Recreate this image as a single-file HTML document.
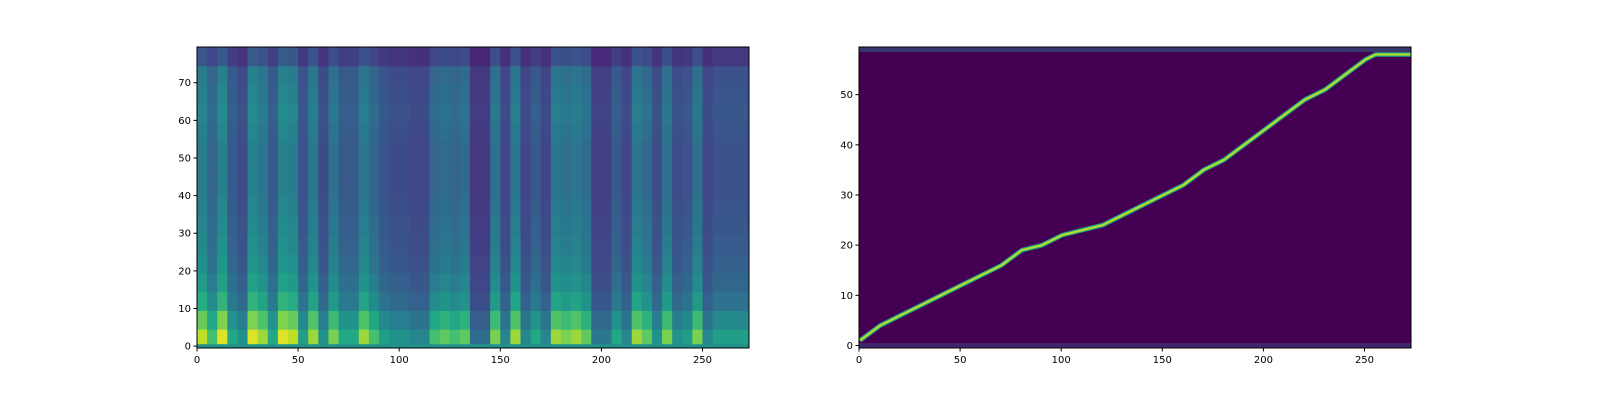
<!DOCTYPE html>
<html><head><meta charset="utf-8"><style>
body{margin:0;background:#fff;}
svg text{font-family:"DejaVu Sans","Liberation Sans",sans-serif;font-size:10px;fill:#000;}
</style></head><body>
<svg id="fig" width="1600" height="400" xmlns="http://www.w3.org/2000/svg">
<defs>
<clipPath id="cl"><rect x="197" y="47" width="552" height="301"/></clipPath>
<clipPath id="cr"><rect x="859" y="47" width="552" height="301"/></clipPath>
</defs>
<g id="left" clip-path="url(#cl)"></g>
<g id="right" clip-path="url(#cr)"></g>
<g id="axes"></g>
</svg>
<script>
// Mel spectrogram: column energy per 5 frames, row base per 5 mel bins
const melColEnergy=[0.9,0.7,0.95,0.6,0.5,0.95,0.85,0.6,0.95,0.9,
0.55,0.85,0.5,0.8,0.6,0.6,0.85,0.7,0.55,0.5,
0.5,0.45,0.45,0.7,0.75,0.7,0.75,0.35,0.35,0.8,
0.45,0.85,0.45,0.6,0.45,0.85,0.8,0.85,0.75,0.4,
0.4,0.6,0.45,0.85,0.75,0.5,0.8,0.5,0.55,0.8,
0.45,0.55,0.55,0.55,0.55];
const melRowBase=[1.0,0.85,0.68,0.6,0.55,0.52,0.5,0.48,0.46,0.46,0.46,0.48,0.5,0.48,0.46,0.3];
const melBin0Value=0.5;
// Alignment: decoder frame knots and attended encoder index
const alignFrames=[0,10,20,30,40,50,60,70,80,90,100,110,120,130,140,150,160,170,180,190,200,210,220,230,240,250,255,273];
const alignEnc=[1,4,6,8,10,12,14,16,19,20,22,23,24,26,28,30,32,35,37,40,43,46,49,51,54,57,58,58];
const xTicks=[0,50,100,150,200,250];
const yTicksL=[0,10,20,30,40,50,60,70];
const yTicksR=[0,10,20,30,40,50];

const NS='http://www.w3.org/2000/svg';
const stops=['#440154','#482475','#414487','#355f8d','#2a788e','#21918c','#22a884','#44bf70','#7ad151','#bddf26','#fde725'];
function hex(h){return [1,3,5].map(i=>parseInt(h.substr(i,2),16));}
function vir(v){v=Math.max(0,Math.min(1,v));const p=v*10,i=Math.min(9,Math.floor(p)),t=p-i;const a=hex(stops[i]),b=hex(stops[i+1]);return 'rgb('+a.map((c,k)=>Math.round(c+(b[k]-c)*t)).join(',')+')';}
function mk(tag,attrs,parent){const e=document.createElementNS(NS,tag);for(const k in attrs)e.setAttribute(k,attrs[k]);parent.appendChild(e);return e;}
const L={x0:197,y0:348,w:552,h:301,xmax:273,ymax:80};
const lx=f=>L.x0+(f+0.5)*L.w/L.xmax, ly=b=>L.y0-(b+0.5)*L.h/L.ymax;
const R={x0:859,y0:348,w:552,h:301,xmax:273,ymax:60};
const rx=f=>R.x0+(f+0.5)*R.w/R.xmax, ry=e=>R.y0-(e+0.5)*R.h/R.ymax;

const gl=document.getElementById('left');
melColEnergy.forEach((c,i)=>{melRowBase.forEach((r,j)=>{
  const e=mk('rect',{x:lx(i*5-0.5),y:ly(j*5+4.5),width:5*L.w/L.xmax+0.5,height:5*L.h/L.ymax+0.5,fill:vir(r*c)},gl);
  
  
});});
const b0=mk('rect',{x:L.x0,y:ly(0.5),width:L.w,height:L.h/L.ymax,fill:vir(melBin0Value)},gl);


const gr=document.getElementById('right');
mk('rect',{x:859,y:47,width:552,height:301,fill:'#440154'},gr);
const tb=mk('rect',{x:rx(-0.5),y:ry(59.5),width:R.w,height:R.h/R.ymax,fill:'#2a788e',opacity:0.45},gr);

const bb=mk('rect',{x:rx(-0.5),y:ry(0.5),width:R.w,height:R.h/R.ymax,fill:'#3b528b',opacity:0.45},gr);

const pts=alignFrames.map((f,i)=>rx(f)+','+ry(alignEnc[i])).join(' ');
const pl=mk('polyline',{points:pts,fill:'none',stroke:'#22a884','stroke-width':4.5,'stroke-linejoin':'round'},gr);

const pl2=mk('polyline',{points:pts,fill:'none',stroke:'#bddf26','stroke-width':2},gr);


const ga=document.getElementById('axes');
function axes(A,fx,fy,yt,name){
  const fr=mk('rect',{x:A.x0,y:A.y0-A.h,width:A.w,height:A.h,fill:'none',stroke:'#000','stroke-width':1},ga);
  
  xTicks.forEach(t=>{const x=fx(t-0.5);
    mk('line',{x1:x,x2:x,y1:A.y0,y2:A.y0+3.5,stroke:'#000'},ga);
    const tx=mk('text',{x:x,y:A.y0+15,'text-anchor':'middle'},ga);tx.textContent=t;
    });
  yt.forEach(t=>{const y=fy(t);
    mk('line',{x1:A.x0,x2:A.x0-3.5,y1:y,y2:y,stroke:'#000'},ga);
    const tx=mk('text',{x:A.x0-6,y:y+3.5,'text-anchor':'end'},ga);tx.textContent=t;
    });
}
axes(L,lx,ly,yTicksL,'left');
axes(R,rx,ry,yTicksR,'right');
</script>
</body></html>
